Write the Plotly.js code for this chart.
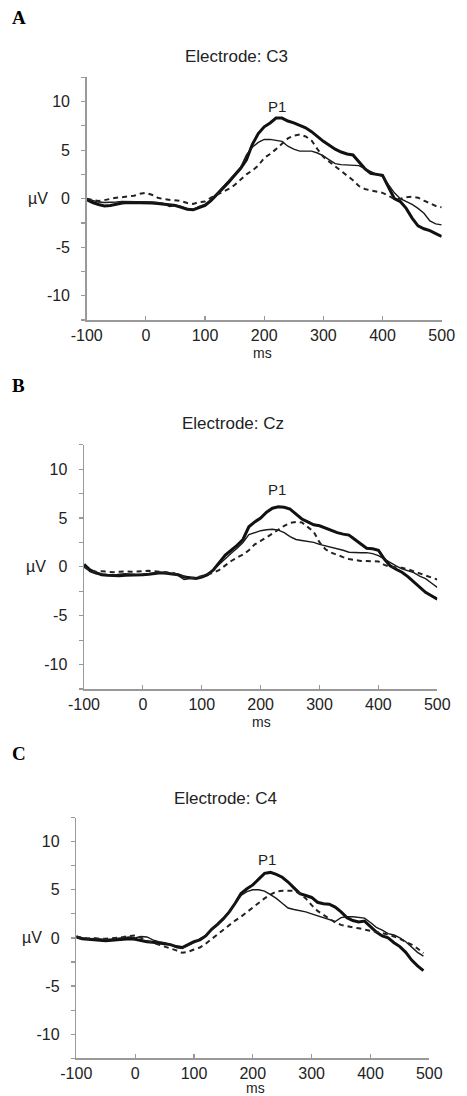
<!DOCTYPE html>
<html>
<head>
<meta charset="utf-8">
<script src="https://cdn.plot.ly/plotly-3.0.1.min.js"></script>
<style>html,body{margin:0;padding:0;background:#fff;}#chart{width:467px;height:1096px;}</style>
</head>
<body>
<div id="chart"></div>
<script>
// Time axis (ms)
const timeAB = [-100,-90,-80,-70,-60,-50,-40,-30,-20,-10,0,10,20,30,40,50,60,70,80,90,100,110,120,130,140,150,160,170,180,190,200,210,220,230,240,250,260,270,280,290,300,310,320,330,340,350,360,370,380,390,400,410,420,430,440,450,460,470,480,490,500];
const timeC = timeAB.slice(0, 60); // ends at 490 ms

// Electrode C3 (panel A)
const c3Thick = [-0.1,-0.4,-0.6,-0.75,-0.7,-0.55,-0.45,-0.4,-0.4,-0.45,-0.4,-0.45,-0.5,-0.55,-0.6,-0.7,-0.9,-1.1,-1.15,-0.9,-0.7,-0.2,0.4,1.1,1.7,2.4,3.1,4.0,5.6,6.7,7.4,7.8,8.3,8.3,8.0,7.8,7.55,7.3,6.9,6.4,5.9,5.5,5.1,4.8,4.6,4.5,3.8,3.1,2.6,2.5,2.4,1.2,0.0,-0.3,-1.0,-2.0,-2.8,-3.1,-3.3,-3.6,-3.9];
const c3Thin = [0.0,-0.2,-0.35,-0.4,-0.4,-0.35,-0.3,-0.3,-0.3,-0.35,-0.3,-0.35,-0.4,-0.5,-0.8,-0.7,-0.8,-1.0,-1.1,-0.8,-0.6,-0.1,0.5,1.2,1.8,2.5,3.2,4.5,5.3,5.8,6.1,6.1,6.0,5.9,5.4,5.1,4.9,4.9,4.9,4.7,4.4,4.0,3.6,3.5,3.45,3.4,3.4,3.1,2.8,2.5,2.3,1.4,0.6,0.0,-0.3,-0.6,-1.0,-1.5,-2.3,-2.6,-2.7];
const c3Dash = [0.0,-0.15,-0.25,-0.15,0.0,0.1,0.15,0.2,0.3,0.5,0.6,0.4,0.1,-0.05,-0.1,-0.15,-0.25,-0.45,-0.55,-0.35,-0.3,0.1,0.4,0.7,1.0,1.4,2.0,2.5,2.9,3.4,4.2,4.6,5.1,5.7,6.2,6.5,6.6,6.4,6.0,5.1,4.3,3.8,3.3,2.9,2.4,1.9,1.3,1.0,0.85,0.7,0.6,0.3,-0.05,0.0,0.15,0.2,0.1,-0.2,-0.5,-0.75,-0.9];

// Electrode Cz (panel B)
const czThick = [0.25,-0.3,-0.6,-0.8,-0.85,-0.9,-0.9,-0.85,-0.85,-0.8,-0.8,-0.75,-0.65,-0.6,-0.65,-0.7,-0.8,-1.05,-1.15,-1.2,-1.05,-0.8,-0.3,0.5,1.2,1.7,2.2,2.8,4.1,4.6,5.0,5.6,6.0,6.15,6.1,5.9,5.4,4.9,4.6,4.3,4.2,3.95,3.7,3.5,3.35,3.25,2.8,2.3,1.9,1.85,1.7,0.8,0.1,-0.25,-0.55,-1.0,-1.55,-2.1,-2.6,-2.95,-3.3];
const czThin = [0.1,-0.5,-0.7,-0.75,-0.8,-0.85,-0.75,-0.7,-0.75,-0.8,-0.75,-0.7,-0.6,-0.6,-0.65,-0.7,-0.9,-1.3,-1.2,-1.15,-1.0,-0.7,-0.3,0.3,0.9,1.4,1.9,2.5,3.3,3.5,3.7,3.8,3.85,3.75,3.5,3.1,2.8,2.7,2.6,2.5,2.3,2.15,2.05,1.9,1.7,1.5,1.45,1.45,1.45,1.35,1.15,0.8,0.4,0.1,-0.2,-0.4,-0.6,-0.95,-1.2,-1.65,-2.1];
const czDash = [0.0,-0.4,-0.5,-0.45,-0.5,-0.55,-0.5,-0.45,-0.5,-0.5,-0.45,-0.4,-0.45,-0.5,-0.55,-0.6,-0.8,-1.0,-1.15,-1.1,-0.95,-0.8,-0.6,-0.3,0.2,0.6,0.95,1.25,1.7,2.3,2.65,3.0,3.4,3.8,4.2,4.5,4.6,4.55,4.1,3.6,2.5,1.8,1.45,1.2,1.0,0.8,0.7,0.6,0.6,0.6,0.55,0.2,0.0,-0.05,-0.1,-0.25,-0.45,-0.7,-0.85,-1.1,-1.3];

// Electrode C4 (panel C)
const c4Thick = [0.1,-0.1,-0.15,-0.2,-0.3,-0.3,-0.25,-0.2,-0.15,-0.1,-0.15,-0.3,-0.4,-0.45,-0.5,-0.6,-0.7,-0.9,-1.0,-0.7,-0.4,-0.2,0.2,0.9,1.4,2.0,2.7,3.6,4.6,5.1,5.5,6.1,6.7,6.8,6.6,6.3,5.8,5.2,4.6,4.4,4.2,3.7,3.55,3.5,3.2,2.7,2.1,1.8,1.65,1.75,1.2,0.6,0.2,0.0,-0.5,-0.9,-1.5,-2.3,-2.9,-3.4];
const c4Thin = [0.2,0.0,-0.1,-0.05,-0.1,-0.15,-0.1,-0.05,0.0,0.1,0.0,0.15,0.1,-0.2,-0.4,-0.5,-0.7,-1.0,-1.1,-0.8,-0.5,-0.1,0.25,0.9,1.45,1.9,2.7,3.6,4.4,4.8,5.0,5.0,4.85,4.5,4.1,3.6,3.1,2.95,2.85,2.7,2.5,2.3,2.1,1.9,1.7,2.1,2.2,2.2,2.15,2.05,1.6,1.1,0.8,0.45,0.3,0.0,-0.4,-1.0,-1.5,-1.9];
const c4Dash = [0.1,0.0,-0.05,0.0,-0.1,-0.1,-0.05,0.0,0.1,0.2,0.25,0.0,-0.3,-0.5,-0.7,-0.85,-1.1,-1.3,-1.55,-1.45,-1.2,-1.0,-0.6,-0.1,0.4,0.85,1.3,1.8,2.2,2.7,3.15,3.6,4.1,4.5,4.8,4.9,4.9,4.9,4.6,4.1,3.4,2.8,2.4,2.0,1.6,1.35,1.2,1.1,1.0,0.85,0.75,0.6,0.5,0.35,0.15,-0.1,-0.4,-0.7,-1.1,-1.6];

// Labels
const panelLabels = ["A", "B", "C"];
const electrodeTitles = ["Electrode: C3", "Electrode: Cz", "Electrode: C4"];
const xTickVals = [-100, 0, 100, 200, 300, 400, 500];
const xTickText = ["-100", "0", "100", "200", "300", "400", "500"];
const yTickVals = [-12.5, -10, -7.5, -5, -2.5, 0, 2.5, 5, 7.5, 10, 12.5];
const yTickText = ["", "-10", "", "-5", "", "0", "", "5", "", "10", ""];
const peakLabel = "P1";
const peakPos = [[221, 9.5], [228, 7.9], [224, 8.1]];

const W = 467, H = 1096;
const px = v => v / W;
const py = v => 1 - v / H;

// layout geometry (pixels): [left, right, top, bottom]
const boxes = [
  [86.7, 441.7, 77.3, 320],
  [84, 437.3, 444.7, 689],
  [76.3, 429.3, 817.5, 1058.3]
];
const titlePos = [[236, 57], [233, 423.3], [225, 798.3]];
const msPos = [[262, 353], [261, 721.5], [255, 1088]];
const muvRight = [50, 48, 43.5];
const labelPos = [[19, 17], [18, 385], [19, 753]];

const series = [
  [timeAB, c3Thick, c3Thin, c3Dash],
  [timeAB, czThick, czThin, czDash],
  [timeC, c4Thick, c4Thin, c4Dash]
];

const traces = [];
const layout = {
  width: W, height: H,
  margin: {l: 0, r: 0, t: 0, b: 0},
  paper_bgcolor: "#fff", plot_bgcolor: "#fff",
  showlegend: false,
  font: {family: "Liberation Sans, Arial, sans-serif", color: "#222", size: 15},
  annotations: []
};

series.forEach((s, i) => {
  const n = i === 0 ? "" : String(i + 1);
  const xa = "x" + n, ya = "y" + n;
  traces.push({x: s[0], y: s[1], xaxis: xa, yaxis: ya, mode: "lines", line: {color: "#111", width: 3}, hoverinfo: "skip"});
  traces.push({x: s[0], y: s[2], xaxis: xa, yaxis: ya, mode: "lines", line: {color: "#1a1a1a", width: 1.4}, hoverinfo: "skip"});
  traces.push({x: s[0], y: s[3], xaxis: xa, yaxis: ya, mode: "lines", line: {color: "#222", width: 2, dash: "5px,4px"}, hoverinfo: "skip"});
  const b = boxes[i];
  layout["xaxis" + n] = {
    domain: [px(b[0]), px(b[1])], range: [-100, 500], anchor: ya,
    showgrid: false, zeroline: false, showline: true, linecolor: "#999", linewidth: 1.5,
    tickmode: "array", tickvals: xTickVals, ticktext: xTickText, ticks: "inside", ticklen: 4, tickcolor: "#999", tickwidth: 1.2,
    tickfont: {size: 16, color: "#222"}, ticklabelstandoff: 0, fixedrange: true
  };
  layout["yaxis" + n] = {
    domain: [py(b[3]), py(b[2])], range: [-12.5, 12.5], anchor: xa,
    showgrid: false, zeroline: false, showline: true, linecolor: "#999", linewidth: 1.5,
    tickmode: "array", tickvals: yTickVals, ticktext: yTickText, ticks: "outside", ticklen: 4, tickcolor: "#999", tickwidth: 1.2,
    tickfont: {size: 16, color: "#222"}, ticklabelstandoff: 8, fixedrange: true
  };
  layout.annotations.push({text: electrodeTitles[i], xref: "paper", yref: "paper", x: px(titlePos[i][0]), y: py(titlePos[i][1]), xanchor: "center", yanchor: "middle", showarrow: false, font: {size: 17, color: "#222"}});
  layout.annotations.push({text: "ms", xref: "paper", yref: "paper", x: px(msPos[i][0]), y: py(msPos[i][1]), xanchor: "center", yanchor: "middle", showarrow: false, font: {size: 14, color: "#222"}});
  layout.annotations.push({text: "µV", xref: "paper", yref: ya, x: px(muvRight[i]), y: 0, xanchor: "right", yanchor: "middle", showarrow: false, font: {size: 16, color: "#222"}});
  layout.annotations.push({text: peakLabel, xref: xa, yref: ya, x: peakPos[i][0], y: peakPos[i][1], xanchor: "center", yanchor: "middle", showarrow: false, font: {size: 15, color: "#222"}});
  layout.annotations.push({text: "<b>" + panelLabels[i] + "</b>", xref: "paper", yref: "paper", x: px(labelPos[i][0]), y: py(labelPos[i][1]), xanchor: "center", yanchor: "middle", showarrow: false, font: {size: 19, color: "#000", family: "Liberation Serif, Times New Roman, serif"}});
});

Plotly.newPlot("chart", traces, layout, {staticPlot: true, displayModeBar: false});
</script>
</body>
</html>
